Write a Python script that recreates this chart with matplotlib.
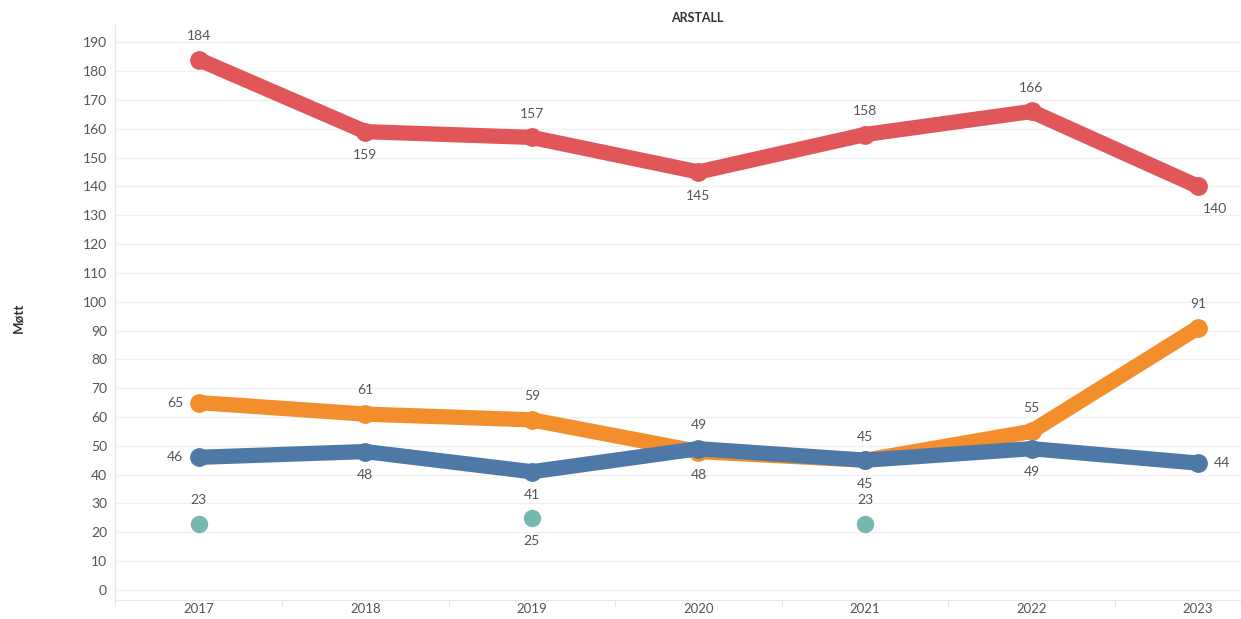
import numpy as np
import matplotlib.pyplot as plt

plt.rcParams["font.family"] = ["Lato", "DejaVu Sans"]

years = [2017, 2018, 2019, 2020, 2021, 2022, 2023]
red_vals = [184, 159, 157, 145, 158, 166, 140]
orange_vals = [65, 61, 59, 48, 45, 55, 91]
blue_vals = [46, 48, 41, 49, 45, 49, 44]
teal_vals = [23, np.nan, 25, np.nan, 23, np.nan, np.nan]

# label placement per point: a=above, b=below, l=left, r=right
red_pos = ["a", "b", "a", "b", "a", "a", "br"]
orange_pos = ["l", "a", "a", "b", "b", "a", "a"]
blue_pos = ["l", "b", "b", "a", "a", "b", "r"]
teal_pos = ["a", "", "b", "", "a", "", ""]

RED = "#e15759"
ORANGE = "#f28e2b"
BLUE = "#4e79a7"
TEAL = "#76b7b2"
TXT = "#555555"

offsets = {
    "a": (0, 17, "center", "center"),
    "b": (0, -17, "center", "center"),
    "l": (-17, 0, "center", "center"),
    "r": (17, 0, "center", "center"),
    "br": (12, -16, "center", "center"),
}

fig = plt.figure(figsize=(12.41, 6.19), dpi=100)
ax = fig.add_axes([0.093, 19 / 619, 0.906, 575 / 619])

x = np.arange(len(years))
for vals, col in [(red_vals, RED), (orange_vals, ORANGE), (blue_vals, BLUE)]:
    ax.plot(x, vals, color=col, lw=11, solid_capstyle="round",
            solid_joinstyle="round", marker="o", ms=12.5, zorder=3)
ax.plot(x, teal_vals, "o", color=TEAL, ms=11.5, zorder=3)


def label(vals, pos):
    for i, (v, p) in enumerate(zip(vals, pos)):
        if not p or np.isnan(v):
            continue
        dx, dy, ha, va = offsets[p]
        ax.annotate(f"{int(v)}", (x[i], v), xytext=(dx, dy),
                    textcoords="offset points", ha=ha, va=va,
                    fontsize=10, color=TXT, zorder=5)


label(red_vals, red_pos)
label(orange_vals, orange_pos)
label(blue_vals, blue_pos)
label(teal_vals, teal_pos)

ax.set_xlim(-0.5, len(years) - 0.75)
ax.set_ylim(-3.5, 196)
ax.set_yticks(range(0, 191, 10))
ax.set_xticks(x)
ax.set_xticklabels([str(y) for y in years])
ax.set_xticks(np.arange(-0.5, len(years) - 0.5, 1), minor=True)
ax.tick_params(axis="x", which="major", length=0, labelsize=9.5,
               labelcolor=TXT, pad=2)
ax.tick_params(axis="x", which="minor", length=4, color="#dddddd")
ax.tick_params(axis="y", length=0, labelsize=10, labelcolor=TXT, pad=6)

ax.grid(axis="y", color="#f0f0f0", lw=1)
ax.set_axisbelow(True)
for s in ["top", "right"]:
    ax.spines[s].set_visible(False)
ax.spines["left"].set_color("#e6e6e6")
ax.spines["bottom"].set_color("#e6e6e6")

fig.text(697 / 1241, 1 - 18 / 619, "ARSTALL", ha="center", va="center",
         fontsize=9, fontweight="bold", color="#333333")
fig.text(18 / 1241, 1 - 318 / 619, "Møtt", ha="center", va="center",
         rotation=90, fontsize=9.5, fontweight="bold", color="#333333")

fig.savefig("out.png", dpi=100, facecolor="white")
